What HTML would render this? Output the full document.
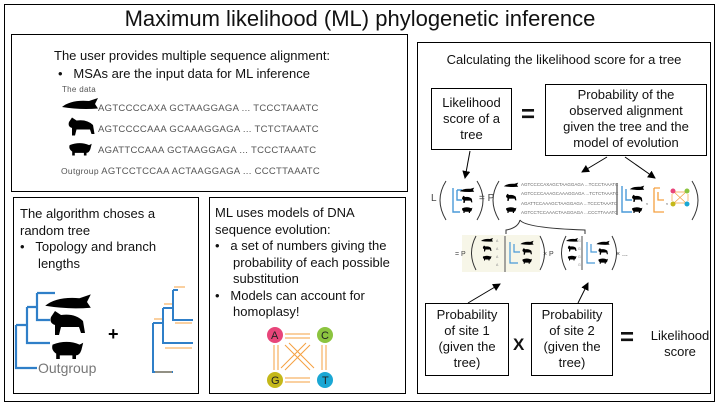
<!DOCTYPE html><html><head><style>
body{margin:0;width:720px;height:405px;background:#fff;font-family:"Liberation Sans",sans-serif;position:relative;overflow:hidden}
.b{position:absolute;border:1.3px solid #000;box-sizing:border-box}
.t{position:absolute;color:#111;font-size:13px;line-height:16px;white-space:nowrap}
.c{text-align:center}
.seq{position:absolute;font-size:9.5px;color:#555;letter-spacing:0.3px;white-space:nowrap}
svg{position:absolute;left:0;top:0}
</style></head><body>
<div class="b" style="left:4px;top:4px;width:711px;height:398px"></div>
<div class="t" style="left:0;width:720px;top:6px;font-size:22px;line-height:26px;text-align:center">Maximum likelihood (ML) phylogenetic inference</div>

<div class="b" style="left:11px;top:34px;width:397px;height:158px"></div>
<div class="t" style="left:54px;top:48px">The user provides multiple sequence alignment:</div>
<div class="t" style="left:58px;top:66px">•&nbsp;&nbsp;&nbsp;MSAs are the input data for ML inference</div>
<div class="seq" style="left:62px;top:85px;font-size:8px">The data</div>
<div class="seq" style="left:98px;top:103px">AGTCCCCAXA GCTAAGGAGA ... TCCCTAAATC</div>
<div class="seq" style="left:98px;top:124px">AGTCCCCAAA GCAAAGGAGA ... TCTCTAAATC</div>
<div class="seq" style="left:98px;top:145px">AGATTCCAAA GCTAAGGAGA ... TCCCTAAATC</div>
<div class="seq" style="left:61px;top:166px"><span style="font-size:8.5px">Outgroup</span> AGTCCTCCAA ACTAAGGAGA ... CCCTTAAATC</div>

<div class="b" style="left:13px;top:197px;width:186px;height:197px"></div>
<div class="t" style="left:20px;top:206px;line-height:16.5px">The algorithm choses a<br>random tree<br>•&nbsp;&nbsp;&nbsp;Topology and branch<br>&nbsp;&nbsp;&nbsp;&nbsp;&nbsp;lengths</div>

<div class="b" style="left:209px;top:197px;width:197px;height:197px"></div>
<div class="t" style="left:215px;top:205px;line-height:16.5px">ML uses models of DNA<br>sequence evolution:<br>•&nbsp;&nbsp;&nbsp;a set of numbers giving the<br>&nbsp;&nbsp;&nbsp;&nbsp;&nbsp;probability of each possible<br>&nbsp;&nbsp;&nbsp;&nbsp;&nbsp;substitution<br>•&nbsp;&nbsp;&nbsp;Models can account for<br>&nbsp;&nbsp;&nbsp;&nbsp;&nbsp;homoplasy!</div>

<div class="b" style="left:417px;top:42px;width:294px;height:352px"></div>
<div class="t" style="left:417px;width:294px;top:52px;text-align:center">Calculating the likelihood score for a tree</div>
<div class="b" style="left:431px;top:88px;width:81px;height:62px"></div>
<div class="t c" style="left:431px;width:81px;top:95px">Likelihood<br>score of a<br>tree</div>
<div class="t" style="left:521px;top:107px;font-size:24px;font-weight:bold">=</div>
<div class="b" style="left:545px;top:84px;width:162px;height:72px"></div>
<div class="t c" style="left:545px;width:162px;top:87px">Probability of the<br>observed alignment<br>given the tree and the<br>model of evolution</div>
<div class="b" style="left:425px;top:303px;width:84px;height:73px"></div>
<div class="t c" style="left:425px;width:84px;top:307px">Probability<br>of site 1<br>(given the<br>tree)</div>
<div class="t" style="left:513px;top:337px;font-size:17px;font-weight:bold">X</div>
<div class="b" style="left:531px;top:303px;width:82px;height:73px"></div>
<div class="t c" style="left:531px;width:82px;top:307px">Probability<br>of site 2<br>(given the<br>tree)</div>
<div class="t" style="left:620px;top:330px;font-size:24px;font-weight:bold">=</div>
<div class="t c" style="left:640px;width:80px;top:328px">Likelihood<br>score</div>

<svg width="720" height="405" font-family="Liberation Sans">
<defs>
<g id="wh"><path d="M-12,2 Q-6,-3 6,-2 L12,-4 L10,0 L12,3 Q0,4 -12,2Z"/></g>
<g id="hp"><path d="M-8,-4 L-6,-7 L-3,-5 Q4,-6 8,-2 L9,4 L7,4 L6,1 L-3,1 L-4,5 L-6,5 L-6,0 Q-9,-1 -8,-4Z"/></g>
<g id="pg"><path d="M-8,-3 Q0,-6 7,-3 L9,-4 L8,0 Q7,3 5,3 L5,5 L3,5 L3,3 L-4,3 L-4,5 L-6,5 L-6,2 Q-9,0 -8,-3Z"/></g>
<marker id="ah" markerWidth="8" markerHeight="8" refX="7" refY="4" orient="auto" markerUnits="userSpaceOnUse"><path d="M0,0L8,4L0,8Z" fill="#000"/></marker>
</defs>
<g transform="translate(80,104) scale(1.5)"><use href="#wh"/></g>
<g transform="translate(81,128) scale(1.5)"><use href="#hp"/></g>
<g transform="translate(80,149) scale(1.3)"><use href="#pg"/></g>

<g stroke="#2f7fc8" stroke-width="2.2" fill="none">
<path d="M16,325V368H37M16,325H27M27,307V343H50M27,307H37M37,293V320H50M37,293H55"/></g>
<g transform="translate(68,302) scale(1.9)"><use href="#wh"/></g>
<g transform="translate(67,325) scale(2)"><use href="#hp"/></g>
<g transform="translate(67,350) scale(1.8)"><use href="#pg"/></g>
<text x="38" y="373" font-size="14" fill="#777">Outgroup</text>
<text x="108" y="340" font-size="18" font-weight="bold">+</text>
<g stroke="#2f7fc8" stroke-width="2" fill="none"><path d="M153,323V372H173M153,323H163M163,308V343H193M163,308H173M173,290V320H193M173,290H178"/></g>
<g stroke="#f5a040" stroke-width="1" fill="none"><path d="M174,287H185M164,304H172M154,319H162M175,323H192M165,348H192M155,372H172"/></g>

<g transform="translate(265,325)">
<g stroke="#f5a040" stroke-width="1"><path d="M20,9H45M20,13H45M9,20V45M13,20V45M57,20V45M61,20V45M20,53H45M20,57H45M20,20L45,45M45,20L20,45M24,18L49,43M41,18L16,43"/></g>
<circle cx="10" cy="10" r="8" fill="#e8457a"/><circle cx="60" cy="10" r="8" fill="#8cc43f"/><circle cx="10" cy="55" r="8" fill="#c4b81a"/><circle cx="60" cy="55" r="8" fill="#1aa7d4"/>
<g font-size="11" fill="#222"><text x="6" y="14">A</text><text x="56" y="14">C</text><text x="6" y="59">G</text><text x="57" y="59">T</text></g></g>

<g stroke="#000" stroke-width="1" fill="none" marker-end="url(#ah)">
<path d="M470,151L465,178"/><path d="M607,157L582,172"/><path d="M625,157L655,178"/>
<path d="M468,303L500,284"/><path d="M578,303L588,283"/></g>

<text x="431" y="201" font-size="10" fill="#444">L</text>
<g stroke="#333" fill="none" stroke-width="1">
<path d="M446,181Q434,200 446,220M477,181Q489,200 477,220M499,181Q487,200 499,220M692,181Q704,200 692,220"/>
<path d="M520,220Q518,228 506,230V234M520,220Q525,228 585,230V234"/></g>
<text x="479" y="201" font-size="10" fill="#444">= P</text>
<g stroke="#4a9ad8" stroke-width="1.4" fill="none"><path d="M453,188V212H460M457,190V200H462M457,190H462"/><path d="M622,186V212H632M626,189V200H632"/></g>
<g transform="translate(467,190) scale(0.6)"><use href="#wh"/></g><g transform="translate(467,200) scale(0.6)"><use href="#hp"/></g><g transform="translate(467,210) scale(0.6)"><use href="#pg"/></g>
<g transform="translate(511,185) scale(0.6)"><use href="#wh"/></g><g transform="translate(511,198) scale(0.6)"><use href="#hp"/></g><g transform="translate(511,210) scale(0.6)"><use href="#pg"/></g>
<g font-size="4.5" fill="#666"><text x="521" y="186">AGTCCCCAXAGCTAAGGAGA ...TCCCTAAATC</text><text x="521" y="195">AGTCCCCAAAGCAAAGGAGA ...TCTCTAAATC</text><text x="521" y="205">AGATTCCAAAGCTAAGGAGA ...TCCCTAAATC</text><text x="521" y="214">AGTCCTCCAAACTAAGGAGA ...CCCTTAAATC</text></g>
<path d="M617,183V215" stroke="#777" stroke-width="1.5"/>
<g transform="translate(637,188) scale(0.6)"><use href="#wh"/></g><g transform="translate(637,199) scale(0.6)"><use href="#hp"/></g><g transform="translate(637,210) scale(0.6)"><use href="#pg"/></g>
<text x="646" y="204" font-size="7">,</text>
<g stroke="#f5a040" stroke-width="1.3" fill="none"><path d="M654,188V212H664M658,192V200H664M654,188H660"/></g>
<text x="666" y="204" font-size="7">,</text>
<g stroke="#f5a040" stroke-width="0.7"><path d="M674,192H686M674,203H686M672,194V201M688,194V201M674,192L686,203M686,192L674,203"/></g>
<circle cx="673" cy="191" r="2.5" fill="#e8457a"/><circle cx="687" cy="191" r="2.5" fill="#8cc43f"/><circle cx="673" cy="204" r="2.5" fill="#c4b81a"/><circle cx="687" cy="204" r="2.5" fill="#1aa7d4"/>

<rect x="462" y="235" width="78" height="37" fill="#f7f6e8"/>
<text x="455" y="256" font-size="7" fill="#444">= P</text>
<g stroke="#333" fill="none" stroke-width="1">
<path d="M476,236Q467,253 476,270M540,236Q549,253 540,270M566,236Q557,253 566,270M612,236Q621,253 612,270"/></g>
<path d="M505,236V272" stroke="#777" stroke-width="1.3"/><path d="M582,236V270" stroke="#777" stroke-width="1.3"/>
<g transform="translate(487,240) scale(0.5)"><use href="#wh"/></g><g transform="translate(487,249) scale(0.5)"><use href="#hp"/></g><g transform="translate(487,258) scale(0.5)"><use href="#pg"/></g>
<g transform="translate(572,240) scale(0.5)"><use href="#wh"/></g><g transform="translate(572,249) scale(0.5)"><use href="#hp"/></g><g transform="translate(572,258) scale(0.5)"><use href="#pg"/></g>
<g font-size="3.5" fill="#888"><text x="496" y="242">A</text><text x="496" y="250">A</text><text x="496" y="258">A</text><text x="496" y="266">A</text><text x="578" y="242">G</text><text x="578" y="250">G</text><text x="578" y="258">G</text><text x="578" y="266">G</text></g>
<g stroke="#4a9ad8" stroke-width="1.2" fill="none"><path d="M510,242V263H518M514,244V252H520"/><path d="M587,242V263H595M591,244V252H597"/></g>
<g transform="translate(527,243) scale(0.55)"><use href="#wh"/></g><g transform="translate(527,252) scale(0.55)"><use href="#hp"/></g><g transform="translate(527,261) scale(0.55)"><use href="#pg"/></g>
<g transform="translate(603,243) scale(0.55)"><use href="#wh"/></g><g transform="translate(603,252) scale(0.55)"><use href="#hp"/></g><g transform="translate(603,261) scale(0.55)"><use href="#pg"/></g>
<text x="543" y="256" font-size="7" fill="#444">× P</text><text x="616" y="256" font-size="7" fill="#444">× ...</text>
</svg>
</body></html>
